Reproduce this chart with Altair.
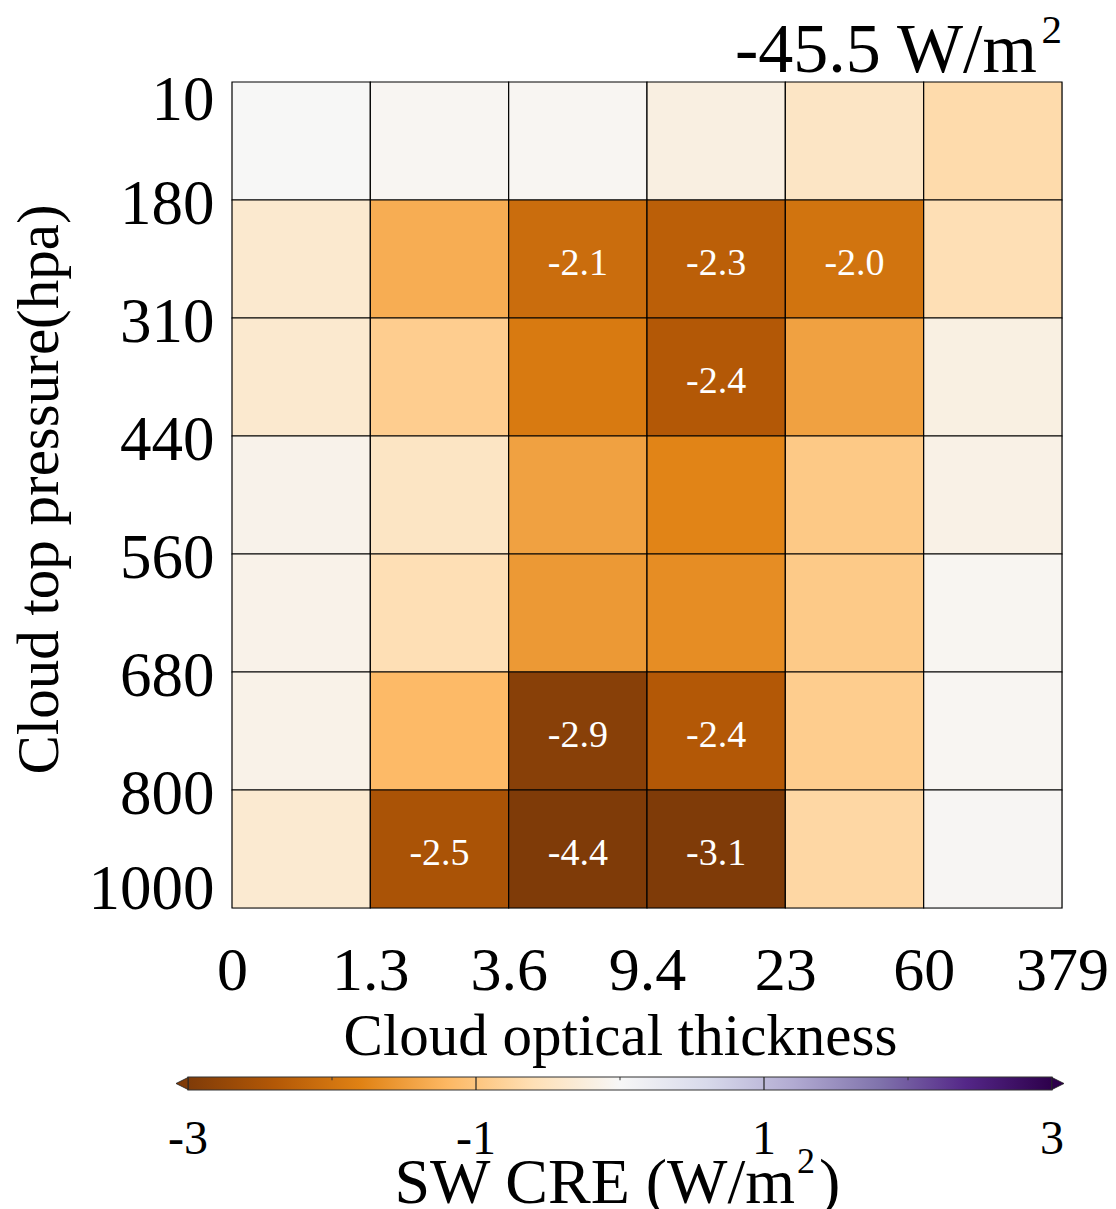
import altair as alt
import pandas as pd

# Bin edges of the joint histogram
tau_edges = ["0", "1.3", "3.6", "9.4", "23", "60", "379"]
ctp_edges = ["10", "180", "310", "440", "560", "680", "800", "1000"]

# SW CRE (W/m2) per bin, one list per pressure band, top of atmosphere first
band_10_180 = [-0.01, -0.05, -0.05, -0.20, -0.46, -0.67]
band_180_310 = [-0.37, -1.32, -2.1, -2.3, -2.0, -0.61]
band_310_440 = [-0.37, -0.88, -1.91, -2.4, -1.46, -0.19]
band_440_560 = [-0.12, -0.47, -1.46, -1.78, -0.95, -0.16]
band_560_680 = [-0.13, -0.61, -1.55, -1.68, -0.93, -0.06]
band_680_800 = [-0.14, -1.17, -2.9, -2.4, -0.89, -0.05]
band_800_1000 = [-0.35, -2.5, -4.4, -3.1, -0.73, -0.04]
bands = [band_10_180, band_180_310, band_310_440, band_440_560,
         band_560_680, band_680_800, band_800_1000]

total_cre = -45.5
cbar_ticks = [-3, -1, 1, 3]
cbar_dividers = [-1, 1]
cbar_minor = [-2, 0, 2]

# Diverging brown-to-purple palette and the values its colours sit at
palette = ["#7f3b08", "#b35806", "#e08214", "#fdb863", "#fee0b6", "#f7f7f7",
           "#d8daeb", "#b2abd2", "#8073ac", "#542788", "#2d004b"]
palette_stops = [-3.0, -2.4, -1.8, -1.2, -0.6, 0.0, 0.6, 1.2, 1.8, 2.4, 3.0]

FONT = "Liberation Serif"

rows = []
for r, band in enumerate(bands):
    for c, v in enumerate(band):
        rows.append({"c0": c, "c1": c + 1, "cm": c + 0.5,
                     "r0": r, "r1": r + 1, "rm": r + 0.5,
                     "value": v, "label": f"{v:.1f}"})
cells = pd.DataFrame(rows)

color_scale = alt.Scale(domain=palette_stops, range=palette, clamp=True, interpolate="rgb")
x_scale = alt.Scale(domain=[0, 6], nice=False, zero=False)
y_scale = alt.Scale(domain=[0, 7], nice=False, zero=False, reverse=True)

x_label_expr = "[" + ",".join(f"'{s}'" for s in tau_edges) + "][datum.value]"
y_label_expr = "[" + ",".join(f"'{s}'" for s in ctp_edges) + "][datum.value]"

x_axis = alt.Axis(
    values=list(range(len(tau_edges))), labelExpr=x_label_expr,
    title="Cloud optical thickness", ticks=False, tickSize=0, domain=False, grid=False,
    labelFont=FONT, labelFontSize=62, labelColor="black", labelBaseline="alphabetic",
    labelPadding=81, labelAlign="center", labelOverlap=False, labelFlush=False,
    titleFont=FONT, titleFontSize=59, titleFontWeight="normal", titleColor="black",
    titleX=388, titleY=146, titleBaseline="alphabetic", titleAlign="center",
)
y_axis = alt.Axis(
    values=list(range(len(ctp_edges))), labelExpr=y_label_expr,
    title="Cloud top pressure(hpa)", ticks=False, tickSize=0, domain=False, grid=False,
    labelFont=FONT, labelFontSize=63, labelColor="black", labelBaseline="alphabetic",
    labelAlign="right", labelPadding=18, labelOverlap=False, labelFlush=False,
    labelOffset={"condition": [{"test": "datum.value == 0", "value": 37},
                               {"test": "datum.value == 7", "value": 0}],
                 "value": 23},
    titleFont=FONT, titleFontSize=59, titleFontWeight="normal", titleColor="black",
    titleX=-175, titleY=407, titleBaseline="alphabetic", titleAlign="center", titleAngle=-90,
)

heat = alt.Chart(cells).mark_rect(stroke="black", strokeWidth=1.2).encode(
    x=alt.X("c0:Q", scale=x_scale, axis=x_axis),
    x2="c1:Q",
    y=alt.Y("r0:Q", scale=y_scale, axis=y_axis),
    y2="r1:Q",
    color=alt.Color("value:Q", scale=color_scale, legend=None),
)

cell_text = alt.Chart(cells).transform_filter("datum.value <= -1.95").mark_text(
    font=FONT, fontSize=38, color="white", baseline="middle", dy=5
).encode(
    x=alt.X("cm:Q", scale=x_scale, axis=None),
    y=alt.Y("rm:Q", scale=y_scale, axis=None),
    text="label:N",
)

# Domain-mean value written above the top-right corner of the grid (unit with raised 2)
total_df = pd.DataFrame({"c": [6], "r": [0], "label": [f"{total_cre} W/m"], "sup": ["2"]})
total_text = alt.Chart(total_df).mark_text(
    font=FONT, fontSize=70, color="black", baseline="alphabetic", align="right", dx=-25, dy=-10
).encode(
    x=alt.X("c:Q", scale=x_scale, axis=None),
    y=alt.Y("r:Q", scale=y_scale, axis=None),
    text="label:N",
)
total_sup = alt.Chart(total_df).mark_text(
    font=FONT, fontSize=41, color="black", baseline="alphabetic", align="right", dy=-39
).encode(
    x=alt.X("c:Q", scale=x_scale, axis=None),
    y=alt.Y("r:Q", scale=y_scale, axis=None),
    text="sup:N",
)

# Colour bar below the grid, drawn on its own scales
cb_x = alt.Scale(domain=[-3, 3], range=[-44, 820], nice=False, zero=False)
cb_y = alt.Scale(domain=[0, 1], range=[995, 1008], nice=False, zero=False)

gradient = alt.LinearGradient(
    gradient="linear", x1=0, x2=1, y1=0, y2=0,
    stops=[alt.GradientStop(offset=(s + 3) / 6, color=c)
           for s, c in zip(palette_stops, palette)],
)
bar_df = pd.DataFrame({"lo": [-3.0], "hi": [3.0], "y0": [0.0], "y1": [1.0]})
bar = alt.Chart(bar_df).mark_rect(color=gradient, stroke="#333333", strokeWidth=1.2).encode(
    x=alt.X("lo:Q", scale=cb_x, axis=None), x2="hi:Q",
    y=alt.Y("y0:Q", scale=cb_y, axis=None), y2="y1:Q",
)

div_df = pd.DataFrame({"v": cbar_dividers, "y0": 0.0, "y1": 1.0})
dividers = alt.Chart(div_df).mark_rule(color="#222222", strokeWidth=1.2).encode(
    x=alt.X("v:Q", scale=cb_x, axis=None),
    y=alt.Y("y0:Q", scale=cb_y, axis=None), y2="y1:Q",
)

minor_df = pd.DataFrame({"v": cbar_minor, "y0": 0.0, "y1": 0.25})
minor = alt.Chart(minor_df).mark_rule(color="#333333", strokeWidth=1).encode(
    x=alt.X("v:Q", scale=cb_x, axis=None),
    y=alt.Y("y0:Q", scale=cb_y, axis=None), y2="y1:Q",
)

tri_df = pd.DataFrame({"v": [-3.0, 3.0], "value": [-3.0, 3.0], "ym": [0.5, 0.5],
                       "shape": ["M-2,0L0,-1L0,1Z", "M2,0L0,-1L0,1Z"]})
triangles = alt.Chart(tri_df).mark_point(filled=True, size=144, opacity=1,
                                          stroke="#222222", strokeWidth=0.8).encode(
    x=alt.X("v:Q", scale=cb_x, axis=None),
    y=alt.Y("ym:Q", scale=cb_y, axis=None),
    color=alt.Color("value:Q", scale=color_scale, legend=None),
    shape=alt.Shape("shape:N", scale=None),
)

tick_df = pd.DataFrame({"v": cbar_ticks, "label": [str(t) for t in cbar_ticks], "y1": 1.0})
tick_labels = alt.Chart(tick_df).mark_text(
    font=FONT, fontSize=48, color="black", baseline="alphabetic", align="center", dy=64
).encode(
    x=alt.X("v:Q", scale=cb_x, axis=None),
    y=alt.Y("y1:Q", scale=cb_y, axis=None),
    text="label:N",
)

# Colour bar title "SW CRE (W/m^2)" set in three pieces so the 2 sits raised
cb_title_df = pd.DataFrame({"v": [0.0], "y1": [1.0], "main": ["SW CRE (W/m"],
                            "sup": ["2"], "close": [")"]})
cb_title_main = alt.Chart(cb_title_df).mark_text(
    font=FONT, fontSize=64, color="black", baseline="alphabetic", align="right", dx=175, dy=113
).encode(
    x=alt.X("v:Q", scale=cb_x, axis=None),
    y=alt.Y("y1:Q", scale=cb_y, axis=None),
    text="main:N",
)
cb_title_sup = alt.Chart(cb_title_df).mark_text(
    font=FONT, fontSize=36, color="black", baseline="alphabetic", align="left", dx=177, dy=83
).encode(
    x=alt.X("v:Q", scale=cb_x, axis=None),
    y=alt.Y("y1:Q", scale=cb_y, axis=None),
    text="sup:N",
)
cb_title_close = alt.Chart(cb_title_df).mark_text(
    font=FONT, fontSize=64, color="black", baseline="alphabetic", align="left", dx=199, dy=113
).encode(
    x=alt.X("v:Q", scale=cb_x, axis=None),
    y=alt.Y("y1:Q", scale=cb_y, axis=None),
    text="close:N",
)

chart = alt.layer(
    heat, cell_text, total_text, total_sup, bar, dividers, minor, triangles,
    tick_labels, cb_title_main, cb_title_sup, cb_title_close
).resolve_scale(
    x="independent", y="independent"
).properties(
    width=830, height=826,
    autosize=alt.AutoSizeParams(type="none"),
    padding={"left": 232, "top": 82, "right": 54, "bottom": 301},
).configure_view(
    stroke="black", strokeWidth=2
).configure(background="white")

chart.save("out.html", embed_options={"renderer": "svg", "actions": False})
